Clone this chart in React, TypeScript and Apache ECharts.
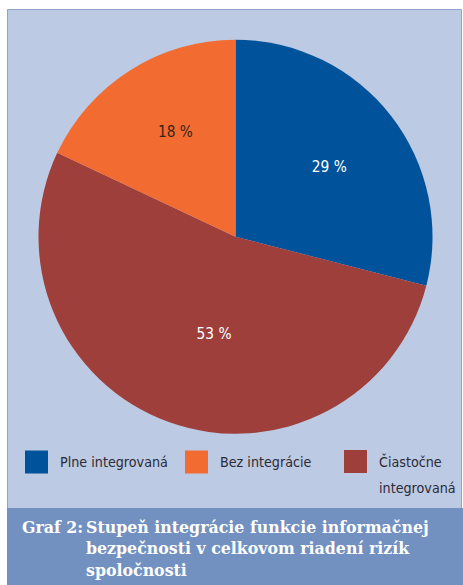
import React, { useEffect, useRef } from "react";
import * as echarts from "echarts";

// ---- data ----
const categories = ["Plne integrovaná", "Čiastočne integrovaná", "Bez integrácie"];
const values = [29, 53, 18];
const legendOrder = ["Plne integrovaná", "Bez integrácie", "Čiastočne integrovaná"];
const captionPrefix = "Graf 2:";
const captionLines = [
  "Stupeň integrácie funkcie informačnej",
  "bezpečnosti v celkovom riadení rizík",
  "spoločnosti",
];

// ---- styles ----
const sliceColors = ["#00539b", "#9e3f3b", "#f26b31"];
const labelColors = ["#ffffff", "#ffffff", "#3a2418"];
const labelShift = [
  [13.6, -7.3],
  [12.9, 2.1],
  [-5.7, -18.6],
];
const legendLeft = [25, 185, 344];
const narrowCandidates = [
  "Liberation Sans Narrow",
  "DejaVu Sans Condensed",
  "Roboto Condensed",
  "Open Sans Condensed",
  "Noto Sans Condensed",
  "Arial Narrow",
];

function pickNarrow(): string {
  const c = document.createElement("canvas").getContext("2d");
  if (!c) return "Roboto";
  const probe = "Plne integrovaná 29 %";
  for (const f of narrowCandidates) {
    c.font = `40px monospace`;
    const a = c.measureText(probe).width;
    c.font = `40px '${f}', monospace`;
    const b = c.measureText(probe).width;
    if (Math.abs(a - b) > 0.5) return f;
  }
  return "Roboto";
}

function sizeFor(font: string, text: string, target: number, max: number): number {
  const c = document.createElement("canvas").getContext("2d");
  if (!c) return max;
  c.font = `100px '${font}', sans-serif`;
  const w = c.measureText(text).width;
  return Math.min(max, (100 * target) / w);
}

export default function App() {
  const ref = useRef<HTMLDivElement>(null);
  useEffect(() => {
    if (!ref.current) return;
    const narrowFont = pickNarrow();
    const family = `'${narrowFont}', sans-serif`;
    const legendSize = sizeFor(narrowFont, "Plne integrovaná", 108, 16.5);
    const labelSize = sizeFor(narrowFont, "29 %", 35, 18);
    const chart = echarts.init(ref.current, undefined, { renderer: "svg" });
    const legends = legendOrder.map((name, i) => {
      const multi = i === 2;
      return {
        data: [name],
        left: legendLeft[i],
        top: multi ? 422.5 : 449,
        orient: "horizontal",
        itemWidth: 23,
        itemHeight: 23,
        itemGap: 0,
        padding: 0,
        icon: "rect",
        selectedMode: false,
        formatter: (n: string) => (multi ? "\n" + n.replace(" ", "\n") : n),
        textStyle: {
          fontFamily: family,
          fontSize: legendSize,
          color: "#2b2b36",
          lineHeight: multi ? 26 : 20,
          padding: multi ? [0, 0, 0, 7] : [6, 0, 0, 7],
        },
      };
    });
    const option: any = {
      animation: false,
      graphic: [
        {
          type: "rect",
          silent: true,
          z: -10,
          shape: { x: 7.5, y: 9.5, width: 454, height: 576 },
          style: { fill: "#bdcae3", stroke: "#8ea3cf", lineWidth: 1 },
        },
        {
          type: "rect",
          silent: true,
          z: -9,
          shape: { x: 7, y: 508, width: 456, height: 77 },
          style: { fill: "#7291c0" },
        },
        {
          type: "text",
          silent: true,
          x: 22,
          y: 527,
          style: {
            text: captionPrefix,
            fill: "#ffffff",
            font: "bold 15.8px 'DejaVu Serif', serif",
            verticalAlign: "middle",
          },
        },
        ...captionLines.map((t, i) => ({
          type: "text",
          silent: true,
          x: 86,
          y: 527 + i * 21.5,
          style: {
            text: t,
            fill: "#ffffff",
            font: "bold 15.8px 'DejaVu Serif', serif",
            verticalAlign: "middle",
          },
        })),
      ],
      legend: legends,
      series: [
        {
          type: "pie",
          center: [235.5, 236.75],
          radius: 197,
          startAngle: 90,
          clockwise: true,
          silent: true,
          itemStyle: { borderWidth: 0 },
          label: {
            position: "inside",
            formatter: "{c} %",
            fontFamily: family,
            fontSize: labelSize,
          },
          labelLine: { show: false },
          emphasis: { disabled: true },
          labelLayout: (p: any) => ({
            dx: labelShift[p.dataIndex][0],
            dy: labelShift[p.dataIndex][1],
          }),
          data: categories.map((name, i) => ({
            name,
            value: values[i],
            itemStyle: { color: sliceColors[i] },
            label: { color: labelColors[i] },
          })),
        },
      ],
    };
    chart.setOption(option);
    return () => chart.dispose();
  }, []);
  return (
    <div
      ref={ref}
      style={{ position: "absolute", left: 0, top: 0, width: 463, height: 585 }}
    />
  );
}
